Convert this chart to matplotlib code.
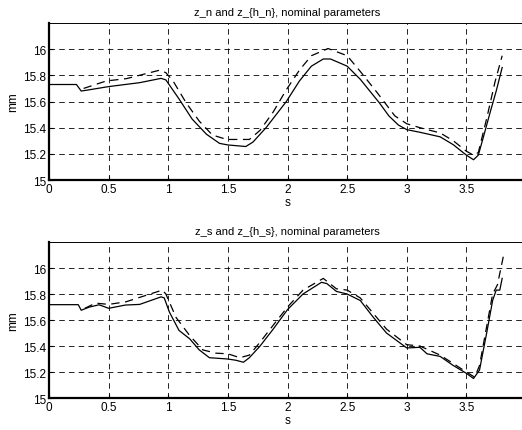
import matplotlib
matplotlib.use("Agg")
import matplotlib.pyplot as plt

plt.rcParams['font.family'] = ['Liberation Sans', 'DejaVu Sans']
plt.rcParams['lines.scale_dashes'] = False

# top panel: z_n (solid) and z_{h_n} (dashed)
t_zn = [0, 0.23, 0.27, 0.34, 0.5, 0.76, 0.94, 0.98, 1.09, 1.2, 1.32, 1.43, 1.5, 1.65,
        1.71, 1.82, 1.99, 2.1, 2.2, 2.3, 2.36, 2.45, 2.5, 2.61, 2.77, 2.85, 2.93, 3.0,
        3.11, 3.28, 3.39, 3.5, 3.56, 3.6, 3.64, 3.7, 3.75, 3.8]
z_n = [15.73, 15.73, 15.68, 15.69, 15.714, 15.744, 15.777, 15.765, 15.62, 15.466, 15.35,
       15.28, 15.268, 15.256, 15.29, 15.4, 15.6, 15.757, 15.87, 15.925, 15.925, 15.89,
       15.87, 15.77, 15.59, 15.49, 15.42, 15.385, 15.365, 15.33, 15.27, 15.19, 15.155,
       15.19, 15.32, 15.52, 15.68, 15.86]

t_zhn = [0.29, 0.48, 0.65, 0.93, 0.98, 1.04, 1.15, 1.26, 1.37, 1.49, 1.68, 1.77, 1.88,
         1.99, 2.1, 2.2, 2.34, 2.5, 2.61, 2.75, 2.9, 3.0, 3.11, 3.28, 3.39, 3.5, 3.56,
         3.6, 3.67, 3.74, 3.8]
z_hn = [15.70, 15.757, 15.775, 15.84, 15.82, 15.757, 15.59, 15.45, 15.344, 15.31, 15.31,
        15.38, 15.52, 15.69, 15.84, 15.95, 16.005, 15.95, 15.83, 15.67, 15.49, 15.43,
        15.40, 15.36, 15.3, 15.22, 15.19, 15.21, 15.47, 15.75, 15.95]

# bottom panel: z_s (solid) and z_{h_s} (dashed)
t_zs = [0, 0.245, 0.27, 0.34, 0.42, 0.5, 0.64, 0.76, 0.94, 0.966, 1.01, 1.09, 1.18, 1.26,
        1.345, 1.5, 1.57, 1.63, 1.68, 1.77, 1.88, 2.0, 2.13, 2.285, 2.33, 2.41, 2.5,
        2.61, 2.72, 2.83, 3.0, 3.11, 3.17, 3.28, 3.39, 3.5, 3.56, 3.61, 3.67, 3.72,
        3.75, 3.78, 3.8]
z_s = [15.718, 15.718, 15.675, 15.70, 15.717, 15.69, 15.715, 15.72, 15.778, 15.77, 15.66,
       15.52, 15.455, 15.37, 15.31, 15.30, 15.29, 15.275, 15.31, 15.40, 15.53, 15.68,
       15.80, 15.89, 15.88, 15.82, 15.80, 15.75, 15.62, 15.50, 15.385, 15.39, 15.34,
       15.32, 15.25, 15.19, 15.15, 15.215, 15.5, 15.75, 15.83, 15.83, 15.92]

t_zhs = [0.3, 0.39, 0.5, 0.645, 0.95, 0.98, 1.065, 1.18, 1.29, 1.4, 1.5, 1.6, 1.68, 1.77,
         1.88, 2.0, 2.13, 2.3, 2.41, 2.5, 2.61, 2.83, 3.0, 3.11, 3.28, 3.5, 3.57, 3.61,
         3.67, 3.72, 3.76, 3.81]
z_hs = [15.69, 15.73, 15.72, 15.74, 15.83, 15.80, 15.62, 15.48, 15.37, 15.345, 15.34,
        15.31, 15.33, 15.43, 15.56, 15.70, 15.83, 15.92, 15.84, 15.83, 15.77, 15.53,
        15.41, 15.40, 15.33, 15.2, 15.16, 15.25, 15.55, 15.8, 15.87, 16.09]

titles = ["z_n and z_{h_n}, nominal parameters", "z_s and z_{h_s}, nominal parameters"]
xticks = [0, 0.5, 1, 1.5, 2, 2.5, 3, 3.5]
yticks = [15, 15.2, 15.4, 15.6, 15.8, 16]
yticklabels = ["15", "15.2", "15.4", "15.6", "15.8", "16"]

fig = plt.figure(figsize=(5.22, 4.31), dpi=100)
ax1 = fig.add_axes([0.0939, 0.580, 0.9138, 0.3643])
ax2 = fig.add_axes([0.0939, 0.0742, 0.9138, 0.362])

panels = [(ax1, t_zn, z_n, t_zhn, z_hn, titles[0]),
          (ax2, t_zs, z_s, t_zhs, z_hs, titles[1])]

for ax, ts, zs, th, zh, title in panels:
    ax.plot(ts, zs, color='black', lw=0.9)
    ax.plot(th, zh, color='black', lw=0.9, dashes=(6, 4))
    ax.set_xlim(0, 4)
    ax.set_ylim(15, 16.2)
    ax.set_xticks(xticks)
    ax.set_xticklabels([f"{v:g}" for v in xticks])
    ax.set_yticks(yticks)
    ax.set_yticklabels(yticklabels)
    ax.grid(True, color='black', lw=0.6, linestyle=(0, (4, 3)))
    ax.tick_params(direction='in', length=3, labelsize=8.5, pad=2)
    ax.spines['left'].set_linewidth(1.6)
    ax.spines['bottom'].set_linewidth(1.6)
    ax.spines['top'].set_linewidth(0.7)
    ax.set_title(title, fontsize=8, pad=6)
    ax.set_xlabel("s", fontsize=8.5, labelpad=1)
    ax.set_ylabel("mm", fontsize=8.5, labelpad=3)

fig.savefig("out.png", dpi=100)
